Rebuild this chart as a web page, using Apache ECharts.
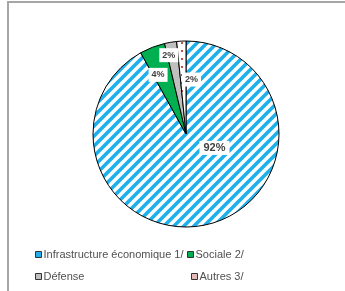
<!DOCTYPE html>
<html>
<head>
<meta charset="utf-8">
<script src="https://cdn.jsdelivr.net/npm/echarts@6/dist/echarts.min.js"></script>
<style>
  html, body { margin: 0; padding: 0; background: #fff; }
  .frame { position: absolute; left: 7px; top: 1px; width: 345px; height: 300px;
           border-top: 2px solid #a6a6a6; border-left: 2px solid #a6a6a6; }
  .chart { position: absolute; left: 0; top: 0; width: 345px; height: 291px; }
</style>
</head>
<body>
<div class="frame"></div>
<div class="chart" id="chart"></div>
<script>
// data (share of spending, %)
const categories = ['Infrastructure économique 1/', 'Sociale 2/', 'Défense', 'Autres 3/'];
const shares = [91.9, 4.4, 2.1, 1.6];

function stripePattern() {
  const c = document.createElement('canvas');
  c.width = 10; c.height = 10;
  const ctx = c.getContext('2d');
  ctx.fillStyle = '#ffffff';
  ctx.fillRect(0, 0, 10, 10);
  ctx.strokeStyle = '#1fb0ec';
  ctx.lineWidth = 3.6;
  ctx.beginPath();
  ctx.moveTo(-3, 13); ctx.lineTo(13, -3);
  ctx.moveTo(-8, 8); ctx.lineTo(8, -8);
  ctx.moveTo(2, 18); ctx.lineTo(18, 2);
  ctx.stroke();
  return c;
}

function dotPattern() {
  const c = document.createElement('canvas');
  c.width = 6; c.height = 8;
  const ctx = c.getContext('2d');
  ctx.fillStyle = '#ffffff';
  ctx.fillRect(0, 0, 6, 8);
  ctx.fillStyle = '#c0504d';
  ctx.fillRect(1, 2, 2, 2);
  return c;
}

const colors = [
  { image: stripePattern(), repeat: 'repeat' },
  '#00b050',
  '#bfbfbf',
  { image: dotPattern(), repeat: 'repeat' }
];
const legendColors = ['#1fb0ec', '#00b050', '#bfbfbf', '#e6b8b7'];

const labelOffsets = [[16, -34], [-10, -13], [-9, -30], [8, -5]];

const chart = echarts.init(document.getElementById('chart'));

function legendFor(names, left, top) {
  return {
    orient: 'vertical',
    left: left,
    top: top,
    padding: 0,
    icon: 'rect',
    itemWidth: 6,
    itemHeight: 6,
    itemGap: 11,
    selectedMode: false,
    textStyle: { fontFamily: 'Liberation Sans', fontSize: 11, color: '#505050', padding: [0, 0, 0, -3] },
    data: names.map(n => ({
      name: n,
      itemStyle: { color: legendColors[categories.indexOf(n)], borderColor: '#333', borderWidth: 1 }
    }))
  };
}

chart.setOption({
  animation: false,
  legend: [
    legendFor([categories[0], categories[2]], 35, 249),
    legendFor([categories[1]], 187, 249),
    legendFor([categories[3]], 191, 271)
  ],
  series: [{
    type: 'pie',
    center: [186, 134],
    radius: 93,
    startAngle: 90,
    clockwise: true,
    label: {
      show: true,
      position: 'inside',
      formatter: p => Math.round(p.percent) + '%',
      fontFamily: 'Liberation Sans',
      fontWeight: 'bold',
      fontSize: 9,
      color: '#404040',
      backgroundColor: '#ffffff',
      padding: [3, 3, 2, 3]
    },
    labelLine: { show: false },
    emphasis: { disabled: true },
    itemStyle: { borderColor: '#000', borderWidth: 1 },
    data: categories.map((name, i) => ({
      name: name,
      value: shares[i],
      itemStyle: { color: colors[i] },
      label: Object.assign({ offset: labelOffsets[i] }, i === 0 ? { fontSize: 11, padding: [2, 4, 1, 4] } : {})
    }))
  }]
});
</script>
</body>
</html>
